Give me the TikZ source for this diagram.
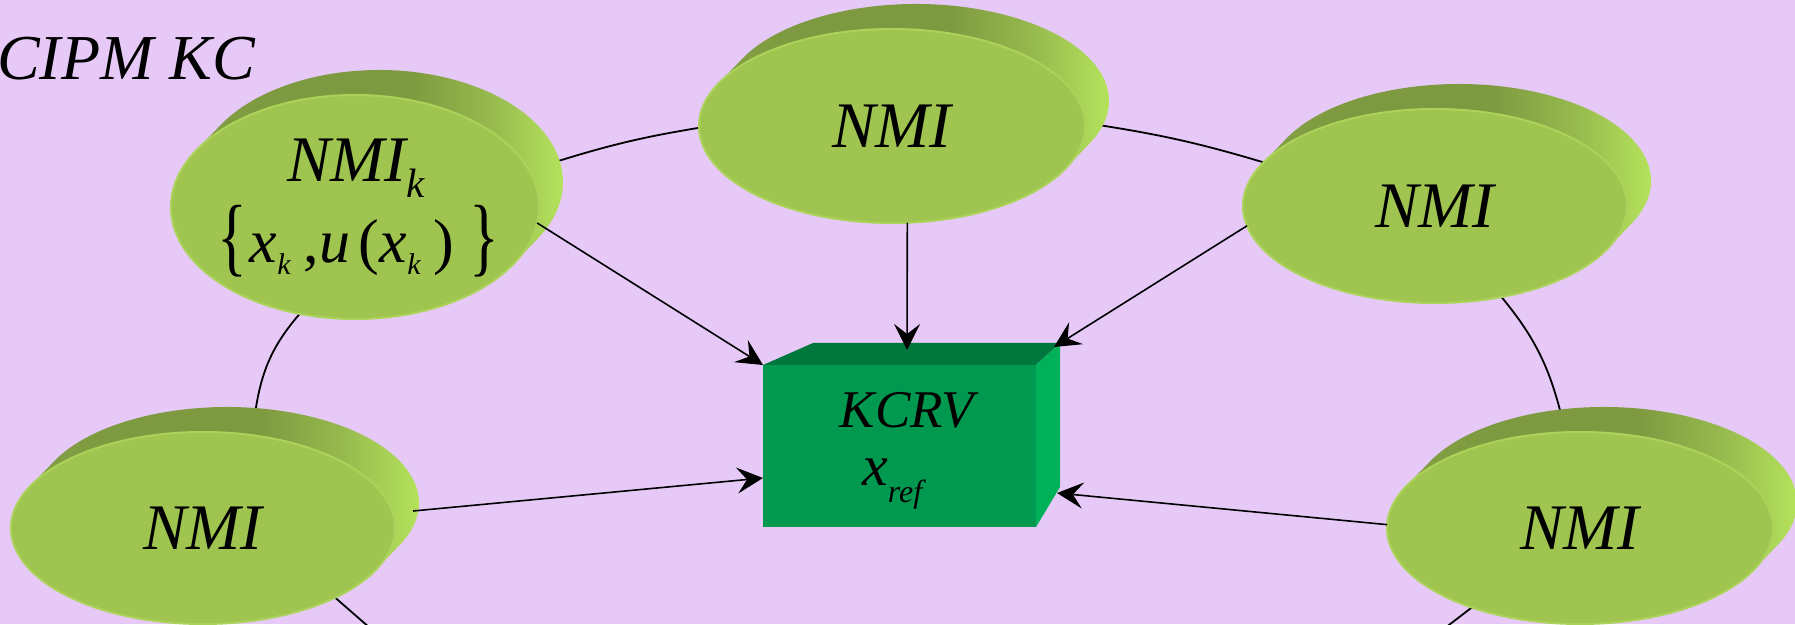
\documentclass[tikz,border=0pt]{standalone}
\usepackage{fontspec}
\setmainfont{Liberation Serif}
\usepackage{graphicx}
\usetikzlibrary{shapes.geometric,arrows.meta,calc}

\definecolor{paper}{HTML}{E6C9F7}
\definecolor{diskface}{HTML}{A0C450}
\definecolor{diskrim}{HTML}{ABD35A}
\definecolor{sidetip}{HTML}{86A645}
\definecolor{sidedark}{HTML}{7E9A40}
\definecolor{sidemid}{HTML}{97BA4E}
\definecolor{sidelight}{HTML}{B4E25C}
\definecolor{boxfront}{HTML}{00994F}
\definecolor{boxtop}{HTML}{00773D}
\definecolor{boxside}{HTML}{00B159}

% shading of the extruded side of a disk: dark on top, light on the right
\pgfdeclarehorizontalshading{diskside}{100bp}{color(0bp)=(sidetip); color(25bp)=(sidetip);
  color(38bp)=(sidedark); color(55bp)=(sidedark); color(64bp)=(sidemid);
  color(72bp)=(sidelight); color(100bp)=(sidelight)}

\pgfdeclarelayer{paperlayer}
\pgfdeclarelayer{ring}
\pgfsetlayers{paperlayer,ring,main}

% extruded disk: side band swept along (24,25), then the front face as a named node
\newcommand\nmidisk[4]{%
  \pgfmathsetmacro\tga{atan(-(#4*24)/(#3*25))+180}%
  \pgfmathsetmacro\tgb{\tga+180}%
  \pgfmathsetmacro\tgc{\tga+360}%
  \shade[shading=diskside] (#2) ++(\tga:#3 and #4)
    arc[start angle=\tga, end angle=\tgb, x radius=#3, y radius=#4]
    -- ++(24,25)
    arc[start angle=\tgb, end angle=\tgc, x radius=#3, y radius=#4] -- cycle;
  \node[disk, minimum width=#3*2pt, minimum height=#4*2pt] (#1) at (#2) {};
}
\newcommand\subk{\raisebox{-12pt}{\fontsize{30}{30}\selectfont\itshape k}}
\newcommand\tallbrace[1]{\raisebox{-3pt}{\scalebox{1}[1.4]{\upshape#1}}}

\begin{document}
\begin{tikzpicture}[x=1pt,y=1pt,
  disk/.style={ellipse, fill=diskface, draw=diskrim, line width=2pt, inner sep=0pt, outer sep=0pt},
  nmitext/.style={inner sep=0pt, font=\fontsize{65}{65}\selectfont\itshape},
  ringline/.style={line width=1.8pt, black},
  feed/.style={line width=1.6pt, black, -{Stealth[length=26pt,width=26pt,inset=10pt]}},
]
\begin{pgfonlayer}{paperlayer}
\fill[paper] (0,0) rectangle (1795,624);
\end{pgfonlayer}
\useasboundingbox (0,0) rectangle (1795,624);

\node[inner sep=0pt, anchor=base west, font=\fontsize{64}{64}\selectfont\itshape] (cipm) at (-3,544) {CIPM KC};

% the five institutes
\nmidisk{tl}{355,417}{184}{112}
\nmidisk{t}{892,498}{193}{97}
\nmidisk{r}{1435,418}{192}{97}
\nmidisk{bl}{203,96}{192}{96}
\nmidisk{br}{1580,96}{193}{96}

\node[inner sep=0pt, anchor=base west, font=\fontsize{65}{65}\selectfont\itshape] (tlname) at (287,442)
  {NMI\raisebox{-16pt}{\fontsize{41}{41}\selectfont k}};
\node[inner sep=0pt, anchor=base west, font=\fontsize{62}{62}\selectfont\itshape] (tldata) at (217,361)
  {\tallbrace{\{}\hspace{3pt}x\subk\hspace{13pt}\textup{,}u\hspace{8pt}\textup{(}\hspace{1pt}x\subk\hspace{13pt}\textup{)}\hspace{15pt}\tallbrace{\}}};
\node[nmitext] (tname) at (t) {NMI};
\node[nmitext] (rname) at (r) {NMI};
\node[nmitext] (blname) at (bl) {NMI};
\node[nmitext] (brname) at (br) {NMI};

% reference value block
\node[fill=boxfront, minimum width=273pt, minimum height=162pt, inner sep=0pt, outer sep=0pt] (kcrv) at (899.5,178) {};
\fill[boxtop] (kcrv.north west) -- ++(50,22) -- ++(247,0) -- (kcrv.north east) -- cycle;
\fill[boxside] (kcrv.north east) -- ++(24,22) -- ++(0,-144) -- (kcrv.south east) -- cycle;
\node[inner sep=0pt, anchor=base, font=\fontsize{53}{53}\selectfont\itshape] (kcrvname) at (907,196) {KCRV};
\node[inner sep=0pt, anchor=base west, font=\fontsize{58}{58}\selectfont\itshape] (kcrvref) at (862,139)
  {x\raisebox{-17pt}{\fontsize{32}{32}\selectfont ref}};

\coordinate (kcrvtop) at ($(kcrv.north)+(7.5,15)$);
\coordinate (kcrvback) at ($(kcrv.north east)+(18,18)$);
\coordinate (kcrvleft) at ($(kcrv.south west)+(0,49)$);
\coordinate (kcrvright) at ($(kcrv.south east)+(21,34)$);
\coordinate (ringbl) at (370,-4);
\coordinate (ringbr) at (1445,-4);

% ring linking the institutes, behind the disks
\begin{pgfonlayer}{ring}
\draw[ringline] ($(tl.center)+(200,45)$) to[bend left=4] ($(t.center)+(-188,-1)$);
\draw[ringline] ($(t.center)+(200,2)$) to[bend left=4] ($(r.center)+(-166,42)$);
\draw[ringline] ($(r.center)+(64,-88)$) to[bend left=13] ($(br.center)+(-18,110)$);
\draw[ringline] ($(bl.center)+(52,114)$) to[bend left=17] ($(tl.center)+(-51,-102)$);
\draw[ringline] ($(bl.center)+(128,-66)$) -- (ringbl);
\draw[ringline] ($(br.center)+(-105,-77)$) -- (ringbr);
\end{pgfonlayer}

% results sent to the reference value
\draw[feed] (tl.-5) -- (kcrv.north west);
\draw[feed] (t.-81) -- (kcrvtop);
\draw[feed] (r.186) -- (kcrvback);
\draw[feed] ($(bl.center)+(210,17)$) -- (kcrvleft);
\draw[feed] (br.179) -- (kcrvright);
\end{tikzpicture}
\end{document}
